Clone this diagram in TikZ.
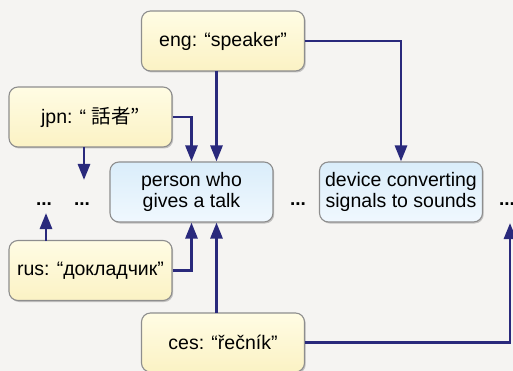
\documentclass[tikz,border=0pt]{standalone}
\usepackage{fontspec}
\setmainfont{Liberation Sans}
\newfontfamily\cjk{Noto Sans CJK JP}
\usetikzlibrary{arrows.meta,shadows,calc}
\definecolor{bgcol}{HTML}{F5F4F2}
\definecolor{arrcol}{HTML}{29297C}
\definecolor{edgecol}{HTML}{8E8E8E}
\definecolor{ytop}{HTML}{FFFCE4}
\definecolor{ybot}{HTML}{FBF2C4}
\definecolor{btop}{HTML}{DAEDFA}
\definecolor{bbot}{HTML}{F0F8FE}
\tikzset{
  box/.style={draw=edgecol, line width=1.1pt, rounded corners=9pt,
    minimum width=163pt, minimum height=60pt, inner sep=0pt,
    align=center, font=\fontsize{19.5}{20.5}\selectfont,
    drop shadow={shadow xshift=1.2pt, shadow yshift=-1.5pt, opacity=0.35, fill=black!60}},
  wordbox/.style={box, top color=ytop, bottom color=ybot},
  sensebox/.style={box, top color=btop, bottom color=bbot},
  more/.style={inner sep=0pt, font=\fontsize{19}{20}\selectfont\bfseries},
  arr/.style={draw=arrcol, line width=2.8pt,
    -{Triangle[length=16pt,width=12pt]}},
}
\begin{document}
\begin{tikzpicture}[x=1pt,y=-1pt]
  \fill[bgcol] (0,0) rectangle (513,371);
  \useasboundingbox (0,0) rectangle (513,371);

  % senses
  \node[sensebox] (person) at (191.5,192) {person who\\gives a talk};
  \node[sensebox] (device) at (401,192) {device converting\\signals to sounds};

  % words
  \node[wordbox] (eng) at (223,41) {eng: “speaker”};
  \node[wordbox] (jpn) at (90.5,117) {jpn: “ {\cjk 話者”}};
  \node[wordbox] (rus) at (90.5,270.5) {rus: “докладчик”};
  \node[wordbox, minimum height=59pt] (ces) at (223,342.5) {ces: “řečník”};

  % elided senses
  \node[more] (moreA) at (44,204) {...};
  \node[more] (moreB) at (82,204) {...};
  \node[more] (moreC) at (298,204) {...};
  \node[more] (moreD) at (507,204) {...};

  \coordinate (engdown) at (216.5,71);
  \coordinate (cesup) at (216.5,313);
  \coordinate (jpndown) at (84,147);
  \coordinate (rusup) at (46,241);

  % links from words to senses
  \draw[arr] (engdown) -- (engdown |- person.north);
  \draw[arr] (jpn.east) -| (person.north);
  \draw[arr] (eng.east) -| (device.north);
  \draw[arr] (jpndown) -- (jpndown |- 0,180);
  \draw[arr] (rus.east) -| (person.south);
  \draw[arr] (rusup) -- (rusup |- 0,213);
  \draw[arr] (cesup) -- (cesup |- person.south);
  \draw[arr] (ces.east) -| (510,223);
\end{tikzpicture}
\end{document}
